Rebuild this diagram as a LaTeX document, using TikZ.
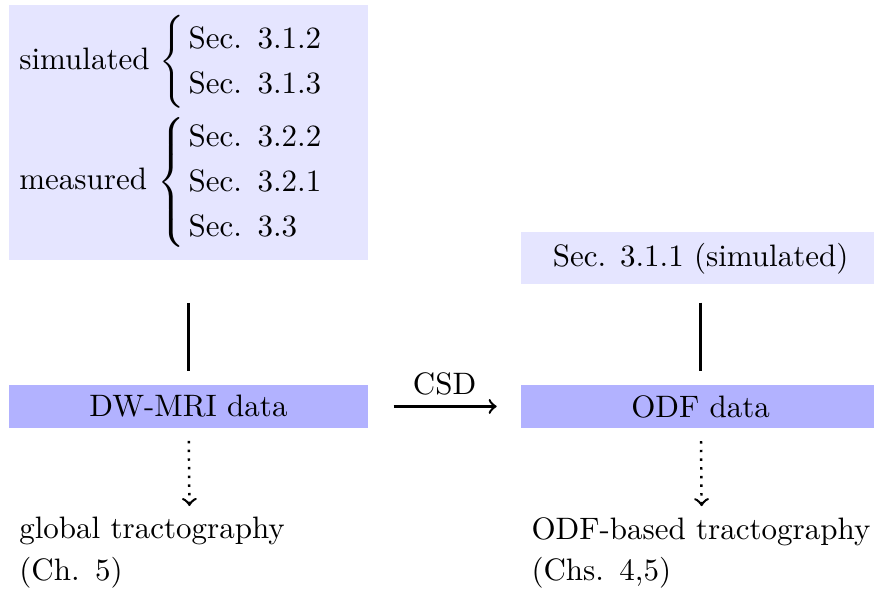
\documentclass[tikz,border=0pt]{standalone}
\usepackage{tikz}
\usetikzlibrary{positioning}
\linespread{1.125}
\renewcommand{\arraystretch}{1.08}

\begin{document}
\begin{tikzpicture}[node distance=39.8pt and 49pt,
  databox/.style={rectangle, fill=blue!30, minimum width=115.8pt},
  srcbox/.style={rectangle, fill=blue!10, minimum width=115.8pt},
  outtext/.style={text width=110pt, align=left}]
\useasboundingbox (-60.8pt,-58.9pt) rectangle (221.1pt,131.1pt);
\node[databox] (dwmri) {DW-MRI data};
\node[databox, right=of dwmri] (odf) {ODF data};
\node[srcbox, text width=109.1pt, align=left, minimum height=82.3pt, above=of dwmri] (sources) {%
\begin{tabular}{@{}l@{}}
simulated $\left\{\vcenter to 28pt{}\right.$\begin{tabular}{@{}l@{}}Sec. 3.1.2\\Sec. 3.1.3\end{tabular}\\[10pt]
measured $\left\{\vcenter to 43pt{}\right.$\begin{tabular}{@{}l@{}}Sec. 3.2.2\\Sec. 3.2.1\\Sec. 3.3\end{tabular}
\end{tabular}};
\node[srcbox, above=32.1pt of odf] (simsrc) {Sec. 3.1.1 (simulated)};
\node[outtext, below=25pt of dwmri.south west, anchor=north west] (globtr) {global tractography\\(Ch. 5)};
\node[outtext, below=25pt of odf.south west, anchor=north west] (odftr) {ODF-based tractography\\(Chs. 4,5)};
% inputs
\draw[thick, shorten <=13.5pt, shorten >=4.4pt] (sources) -- (dwmri);
\draw[thick, shorten <=5.8pt, shorten >=4.4pt] (simsrc) -- (odf);
\draw[thick, ->, shorten <=8.1pt, shorten >=7.7pt] (dwmri) -- node[above] {CSD} (odf);
% outputs
\draw[thick, dotted, ->, shorten <=4pt] (dwmri) -- (globtr);
\draw[thick, dotted, ->, shorten <=4pt] (odf) -- (odftr);
\end{tikzpicture}
\end{document}
